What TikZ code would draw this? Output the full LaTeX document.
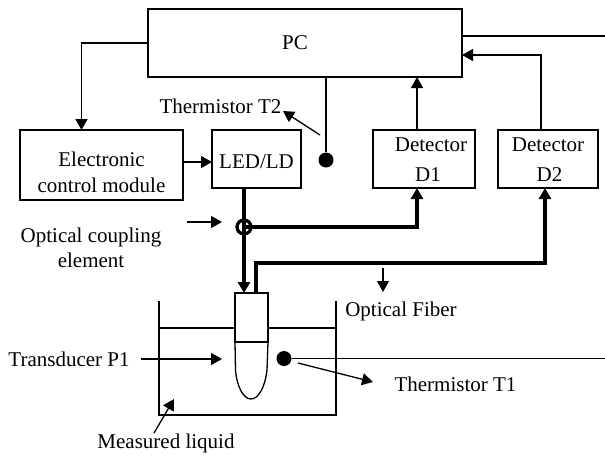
\documentclass[tikz,border=0pt]{standalone}
\usepackage{fontspec}
\setmainfont{Liberation Serif}
\usetikzlibrary{positioning,arrows.meta}

\begin{document}
\begin{tikzpicture}[
        x=1pt, y=-1pt,
        font=\fontsize{21}{25}\selectfont,
        unit/.style={rectangle, draw, line width=1.3pt, inner sep=0pt, outer sep=0pt, align=center},
        caption/.style={inner sep=0pt, align=center},
        sensor/.style={circle, fill=black, minimum size=15pt, inner sep=0pt},
        wire/.style={line width=1.3pt},
        flow/.style={line width=1.3pt, -{Triangle[length=11pt,width=12pt]}},
        fiber/.style={line width=3.6pt, -{Triangle[length=11pt,width=12pt]}}
    ]
    \useasboundingbox (0,0) rectangle (605,456);

    % Blocks
    \node[unit, minimum width=314pt, minimum height=68pt] (pc) at (305,43) {PC\hspace*{20pt}};
    \node[unit, minimum width=163pt, minimum height=70pt] (ecm) at (101.5,165) {\rule{0pt}{29pt}Electronic\\[1pt]control module};
    \node[unit, minimum width=89pt, minimum height=58pt, right=29pt of ecm.north east, anchor=north west] (led) {\rule{0pt}{20pt}LED/LD};
    \node[unit, minimum width=102pt, minimum height=58pt, right=72pt of led.east] (det1) {\rule{0pt}{16pt}\hspace*{14pt}Detector\\[5pt]\hspace*{8pt}D1};
    \node[unit, minimum width=100pt, minimum height=58pt, right=23pt of det1.east] (det2) {\rule{0pt}{16pt}Detector\\[5pt]\hspace*{3pt}D2};
    \node[unit, minimum width=33pt, minimum height=49pt, fill=white] (probe) at (251.5,317.5) {};

    % Sensors and coupler
    \node[sensor] (t2) at (326,160) {};
    \node[sensor] (t1) at (284,358.5) {};
    \node[circle, draw, line width=3pt, minimum size=14pt, inner sep=0pt] (coupler) at (244,227) {};

    % Free ends
    \coordinate (out1) at (605,36);
    \coordinate (out2) at (605,358.5);
    \coordinate (pcleft) at (81.5,43);
    \coordinate (pcright) at (541,55);
    \coordinate (det1up) at (417,130);
    \coordinate (fiberin) at (256,263);
    \coordinate (det2in) at (545,188);

    % Liquid tank and transducer tip
    \draw[wire] (159,301) -- (159,415) -- (336,415) -- (336,301);
    \draw[wire] (159,328) -- (probe.west |- 0,328);
    \draw[wire] (probe.east |- 0,328) -- (336,328);
    \draw[wire] (probe.south west) -- (235.5,370) .. controls (237,388) and (244,399) .. (251,399)
        .. controls (258,399) and (265,388) .. (267,370) -- (probe.south east);
    \draw[line width=1.8pt] (probe.south west) -- (probe.south east);

    % Connections
    \draw[flow] (pc.west |- pcleft) -- (pcleft) -- (pcleft |- ecm.north);
    \draw[flow] (ecm.east |- 0,162) -- (led.west |- 0,162);
    \draw[wire] (pc.south -| t2) -- (t2);
    \draw[wire] (pc.east |- out1) -- (out1);
    \draw[wire] (t1) -- (out2);
    \draw[flow] (det1up) -- (det1up |- pc.south);
    \draw[flow] (pcright |- det2.north) -- (pcright) -- (pc.east |- pcright);

    % Fibers
    \draw[fiber] (led.south -| coupler) -- (probe.north -| coupler);
    \draw[fiber] (coupler.center) -- (det1up |- coupler) -- (det1up |- det1.south);
    \draw[fiber] (fiberin |- probe.north) -- (fiberin) -- (fiberin -| det2in) -- (det2in);
    \node[circle, draw, line width=3pt, minimum size=14pt, inner sep=0pt] at (coupler) {};

    % Labels
    \node[caption] (lt2) at (220.5,106) {Thermistor T2};
    \node[caption] (lcoupler) at (91,248) {Optical coupling\\element};
    \node[caption] (lfiber) at (401,311) {Optical Fiber};
    \node[caption] (ltrans) at (69,359) {Transducer P1};
    \node[caption] (lt1) at (455.5,384) {Thermistor T1};
    \node[caption] (lliquid) at (166,443) {Measured liquid};

    % Pointers
    \draw[flow] (320,135) -- (283,111);
    \draw[flow] (187,222) -- (222,222);
    \draw[flow] (383,268) -- (383,292);
    \draw[flow] (141,359) -- (222,359);
    \draw[flow] (298,363) -- (373,382);
    \draw[flow] (154,433) -- (174,399);
\end{tikzpicture}
\end{document}
